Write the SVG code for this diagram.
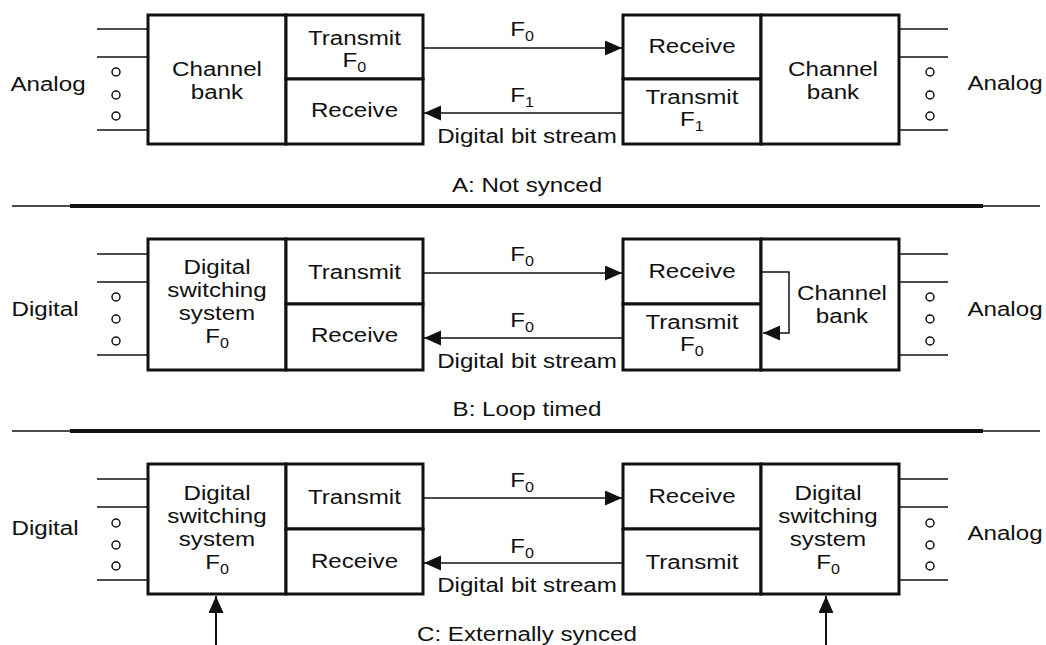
<svg xmlns="http://www.w3.org/2000/svg" width="1046" height="645" viewBox="0 0 1046 645">
<style>
text{font-family:"Liberation Sans",Arial,sans-serif;font-size:21px;fill:#111;text-anchor:middle;transform-box:fill-box;transform-origin:center;transform:scaleX(1.15)}
.sub{font-size:14px}
.box{fill:#fff;stroke:#111;stroke-width:3}
.stub{stroke:#111;stroke-width:1.5;fill:none}
.dot{fill:#fff;stroke:#111;stroke-width:1.5}
.conn{stroke:#111;stroke-width:1.5;fill:none}
.up{stroke:#111;stroke-width:2;fill:none}
.thin{stroke:#111;stroke-width:1.5}
.thick{stroke:#111;stroke-width:4}
</style>
<defs>
<marker id="ah" markerUnits="userSpaceOnUse" markerWidth="18" markerHeight="16" refX="17" refY="7.5" orient="auto">
<path d="M0,0 L17,7.5 L0,15 z" fill="#111"/>
</marker>
</defs>

<g id="separators">
<line class="thin" x1="12" y1="206" x2="70" y2="206"/><line class="thick" x1="70" y1="206" x2="983" y2="206"/><line class="thin" x1="983" y1="206" x2="1040" y2="206"/>
<line class="thin" x1="12" y1="431" x2="70" y2="431"/><line class="thick" x1="70" y1="431" x2="983" y2="431"/><line class="thin" x1="983" y1="431" x2="1040" y2="431"/>
</g>

<!-- ===== Panel A ===== -->
<g id="a-left-ports">
<line class="stub" x1="97" y1="29" x2="148" y2="29"/><line class="stub" x1="97" y1="57" x2="148" y2="57"/><line class="stub" x1="97" y1="130" x2="148" y2="130"/>
<circle class="dot" cx="116" cy="72" r="4"/><circle class="dot" cx="116" cy="95" r="4"/><circle class="dot" cx="116" cy="116" r="4"/>
<text x="48" y="91">Analog</text>
</g>
<g id="a-left-bank"><rect class="box" x="148" y="15" width="138" height="129"/><text><tspan x="217" y="76">Channel</tspan><tspan x="217" y="99">bank</tspan></text></g>
<g id="a-left-tx"><rect class="box" x="286" y="15" width="137" height="64"/><text><tspan x="354.5" y="45">Transmit</tspan><tspan x="354.5" y="67">F<tspan class="sub" dy="5.5">0</tspan></tspan></text></g>
<g id="a-left-rx"><rect class="box" x="286" y="79" width="137" height="65"/><text x="354.5" y="117">Receive</text></g>
<g id="a-right-rx"><rect class="box" x="623" y="15" width="138" height="64"/><text x="692" y="53">Receive</text></g>
<g id="a-right-tx"><rect class="box" x="623" y="79" width="138" height="65"/><text><tspan x="692" y="104">Transmit</tspan><tspan x="692" y="126">F<tspan class="sub" dy="5.5">1</tspan></tspan></text></g>
<g id="a-right-bank"><rect class="box" x="761" y="15" width="138" height="129"/><text><tspan x="833" y="76">Channel</tspan><tspan x="833" y="99">bank</tspan></text></g>
<g id="a-right-ports">
<line class="stub" x1="899" y1="29" x2="948" y2="29"/><line class="stub" x1="899" y1="57" x2="948" y2="57"/><line class="stub" x1="899" y1="130" x2="948" y2="130"/>
<circle class="dot" cx="930" cy="72" r="4"/><circle class="dot" cx="930" cy="95" r="4"/><circle class="dot" cx="930" cy="116" r="4"/>
<text x="1005" y="90">Analog</text>
</g>
<text id="label-a" x="527" y="192">A: Not synced</text>

<!-- ===== Panel B ===== -->
<g id="b-left-ports">
<line class="stub" x1="97" y1="254" x2="148" y2="254"/><line class="stub" x1="97" y1="282" x2="148" y2="282"/><line class="stub" x1="97" y1="355" x2="148" y2="355"/>
<circle class="dot" cx="116" cy="297" r="4"/><circle class="dot" cx="116" cy="319" r="4"/><circle class="dot" cx="116" cy="341" r="4"/>
<text x="45" y="316">Digital</text>
</g>
<g id="b-left-switch"><rect class="box" x="148" y="239" width="138" height="131"/><text><tspan x="217" y="274">Digital</tspan><tspan x="217" y="297">switching</tspan><tspan x="217" y="320">system</tspan><tspan x="217" y="343">F<tspan class="sub" dy="5.5">0</tspan></tspan></text></g>
<g id="b-left-tx"><rect class="box" x="286" y="239" width="137" height="65"/><text x="354.5" y="279">Transmit</text></g>
<g id="b-left-rx"><rect class="box" x="286" y="304" width="137" height="66"/><text x="354.5" y="342">Receive</text></g>
<g id="b-right-rx"><rect class="box" x="623" y="239" width="138" height="65"/><text x="692" y="278">Receive</text></g>
<g id="b-right-tx"><rect class="box" x="623" y="304" width="138" height="66"/><text><tspan x="692" y="329">Transmit</tspan><tspan x="692" y="351">F<tspan class="sub" dy="5.5">0</tspan></tspan></text></g>
<g id="b-right-bank"><rect class="box" x="761" y="239" width="138" height="131"/><text><tspan x="842" y="300">Channel</tspan><tspan x="842" y="323">bank</tspan></text></g>
<g id="b-right-ports">
<line class="stub" x1="899" y1="254" x2="948" y2="254"/><line class="stub" x1="899" y1="282" x2="948" y2="282"/><line class="stub" x1="899" y1="355" x2="948" y2="355"/>
<circle class="dot" cx="930" cy="297" r="4"/><circle class="dot" cx="930" cy="319" r="4"/><circle class="dot" cx="930" cy="341" r="4"/>
<text x="1005" y="316">Analog</text>
</g>
<text id="label-b" x="527" y="416">B: Loop timed</text>

<!-- ===== Panel C ===== -->
<g id="c-left-ports">
<line class="stub" x1="97" y1="479" x2="148" y2="479"/><line class="stub" x1="97" y1="507" x2="148" y2="507"/><line class="stub" x1="97" y1="580" x2="148" y2="580"/>
<circle class="dot" cx="116" cy="523" r="4"/><circle class="dot" cx="116" cy="545" r="4"/><circle class="dot" cx="116" cy="566" r="4"/>
<text x="45" y="535">Digital</text>
</g>
<g id="c-left-switch"><rect class="box" x="148" y="464" width="138" height="130"/><text><tspan x="217" y="500">Digital</tspan><tspan x="217" y="523">switching</tspan><tspan x="217" y="546">system</tspan><tspan x="217" y="569">F<tspan class="sub" dy="5.5">0</tspan></tspan></text></g>
<g id="c-left-tx"><rect class="box" x="286" y="464" width="137" height="65"/><text x="354.5" y="504">Transmit</text></g>
<g id="c-left-rx"><rect class="box" x="286" y="529" width="137" height="65"/><text x="354.5" y="568">Receive</text></g>
<g id="c-right-rx"><rect class="box" x="623" y="464" width="138" height="65"/><text x="692" y="503">Receive</text></g>
<g id="c-right-tx"><rect class="box" x="623" y="529" width="138" height="65"/><text x="692" y="569">Transmit</text></g>
<g id="c-right-switch"><rect class="box" x="761" y="464" width="138" height="130"/><text><tspan x="828" y="500">Digital</tspan><tspan x="828" y="523">switching</tspan><tspan x="828" y="546">system</tspan><tspan x="828" y="569">F<tspan class="sub" dy="5.5">0</tspan></tspan></text></g>
<g id="c-right-ports">
<line class="stub" x1="899" y1="479" x2="948" y2="479"/><line class="stub" x1="899" y1="507" x2="948" y2="507"/><line class="stub" x1="899" y1="580" x2="948" y2="580"/>
<circle class="dot" cx="930" cy="523" r="4"/><circle class="dot" cx="930" cy="545" r="4"/><circle class="dot" cx="930" cy="566" r="4"/>
<text x="1005" y="540">Analog</text>
</g>
<text id="label-c" x="527" y="641">C: Externally synced</text>

<!-- ===== Connectors ===== -->
<g id="connectors">
<line class="conn" x1="423" y1="48" x2="622" y2="48" marker-end="url(#ah)"/>
<line class="conn" x1="622" y1="113" x2="424" y2="113" marker-end="url(#ah)"/>
<line class="conn" x1="423" y1="273" x2="622" y2="273" marker-end="url(#ah)"/>
<line class="conn" x1="622" y1="338" x2="424" y2="338" marker-end="url(#ah)"/>
<polyline class="conn" points="762,272 789,272 789,333 763,333" marker-end="url(#ah)"/>
<line class="conn" x1="423" y1="498" x2="622" y2="498" marker-end="url(#ah)"/>
<line class="conn" x1="622" y1="563" x2="424" y2="563" marker-end="url(#ah)"/>
<line class="up" x1="216" y1="645" x2="216" y2="596" marker-end="url(#ah)"/>
<line class="up" x1="826" y1="645" x2="826" y2="596" marker-end="url(#ah)"/>
</g>
<g id="connector-labels">
<text x="522" y="36">F<tspan class="sub" dy="5.5">0</tspan></text>
<text x="522" y="102">F<tspan class="sub" dy="5.5">1</tspan></text>
<text x="527" y="143">Digital bit stream</text>
<text x="522" y="261">F<tspan class="sub" dy="5.5">0</tspan></text>
<text x="522" y="327">F<tspan class="sub" dy="5.5">0</tspan></text>
<text x="527" y="368">Digital bit stream</text>
<text x="522" y="487">F<tspan class="sub" dy="5.5">0</tspan></text>
<text x="522" y="553">F<tspan class="sub" dy="5.5">0</tspan></text>
<text x="527" y="592">Digital bit stream</text>
</g>
</svg>
